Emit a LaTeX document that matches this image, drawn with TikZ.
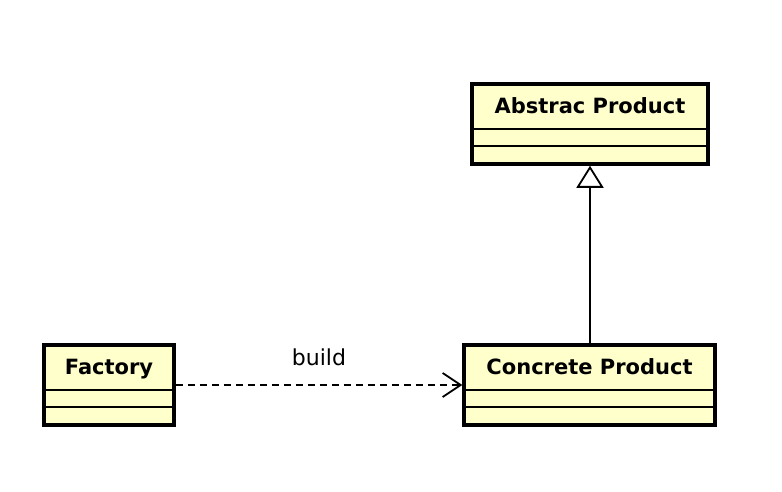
\documentclass[tikz,border=0pt]{standalone}
\usepackage{fontspec}
\setmainfont{DejaVu Sans}
\usetikzlibrary{arrows.meta,calc,positioning}

\definecolor{classyellow}{RGB}{255,255,204}

\tikzset{
  umlclass/.style = {draw, line width = 3.5pt, fill = classyellow,
                     inner sep = 0pt, minimum height = 80pt},
  classname/.style = {font = \fontsize{21}{25}\selectfont\bfseries, anchor = base},
  compline/.style = {line width = 2pt},
  depend/.style = {line width = 1.8pt, dash pattern = on 7pt off 5pt,
                   -{Straight Barb[length = 18pt, width = 24pt]}},
  inherit/.style = {line width = 1.8pt,
                    -{Triangle[open, length = 22pt, width = 27pt, fill = white]}},
}

\begin{document}
\begin{tikzpicture}[x = 1pt, y = -1pt]
    \useasboundingbox (0,0) rectangle (782,492);

    % classes
    \node [umlclass, minimum width = 236pt] (abstrac) at (590,124) {};
    \node [umlclass, minimum width = 251pt] (concrete) at (589.5,385) {};
    \node [umlclass, minimum width = 130pt] (factory) at (109,385) {};

    \node [classname] (abstractitle) at ($(abstrac.north) + (0,31)$) {Abstrac Product};
    \node [classname] (concretetitle) at ($(concrete.north) + (0,31)$) {Concrete Product};
    \node [classname] (factorytitle) at ($(factory.north) + (0,31)$) {Factory};

    % attribute and operation compartments
    \foreach \cls in {abstrac, concrete, factory} {
        \draw [compline] ($(\cls.south west) + (0,-37)$) -- ($(\cls.south east) + (0,-37)$);
        \draw [compline] ($(\cls.south west) + (0,-20)$) -- ($(\cls.south east) + (0,-20)$);
    }

    % relations
    \draw [depend] (factory.east) -- (concrete.west)
        node [midway, anchor = base, yshift = 20pt, font = \fontsize{22}{26}\selectfont] (buildlabel) {build};

    \draw [inherit] (concrete.north -| abstrac.south) -- (abstrac.south);

\end{tikzpicture}
\end{document}
